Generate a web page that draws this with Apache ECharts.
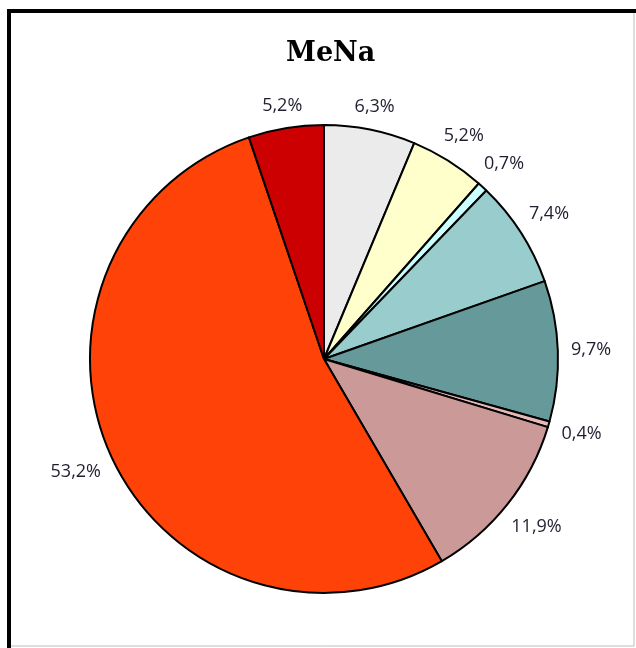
<!DOCTYPE html>
<html>
<head>
<meta charset="utf-8">
<script src="https://cdn.jsdelivr.net/npm/echarts@6/dist/echarts.min.js"></script>
<style>
html,body{margin:0;padding:0;background:#fff;}
#chart{width:636px;height:648px;}
</style>
</head>
<body>
<div id="chart"></div>
<script>
// Data (clockwise from 12 o'clock)
const categories = ['K1', 'K2', 'K3', 'K4', 'K5', 'K6', 'K7', 'K8', 'K9'];
const values = [6.3, 5.2, 0.7, 7.4, 9.7, 0.4, 11.9, 53.2, 5.2];
const colors = ['#ebebeb', '#ffffcc', '#ccffff', '#99cccc', '#669999', '#e6b8b8', '#cc9999', '#ff4208', '#cc0000'];
const titleText = 'MeNa';

const CX = 324, CY = 359, R = 234, GAP = 13;
const total = values.reduce((a, b) => a + b, 0);

function midAngle(i) {
  let before = 0;
  for (let k = 0; k < i; k++) before += values[k];
  return ((before + values[i] / 2) / total) * Math.PI * 2;
}

const chart = echarts.init(document.getElementById('chart'), null, {renderer: 'canvas'});
chart.setOption({
  animation: false,
  backgroundColor: '#ffffff',
  title: {
    text: titleText,
    left: 281,
    top: 35,
    textStyle: {fontFamily: 'DejaVu Serif', fontWeight: 'bold', fontSize: 27, color: '#000'}
  },
  graphic: [
    {type: 'polyline', shape: {points: [[9, 648], [9, 11], [636, 11]]}, style: {stroke: '#000', lineWidth: 4, fill: null}, z: 100},
    {type: 'polyline', shape: {points: [[634, 11], [634, 646], [9, 646]]}, style: {stroke: '#bdbdbd', lineWidth: 1, fill: null}, z: 99}
  ],
  series: [{
    type: 'pie',
    center: [CX, CY],
    radius: [0, R],
    startAngle: 90,
    clockwise: true,
    avoidLabelOverlap: false,
    data: categories.map((c, i) => ({name: c, value: values[i], itemStyle: {color: colors[i]}})),
    itemStyle: {borderColor: '#000', borderWidth: 2},
    label: {
      show: true,
      position: 'outside',
      formatter: p => p.value.toFixed(1).replace('.', ',') + '%',
      fontFamily: 'Open Sans',
      fontSize: 18,
      color: '#1f1f30'
    },
    labelLine: {show: false},
    labelLayout: function (params) {
      const a = midAngle(params.dataIndex);
      const s = Math.sin(a), c = Math.cos(a);
      const w = params.labelRect.width, h = params.labelRect.height * 0.75;
      const d = R + GAP + Math.abs(s) * w / 2 + Math.abs(c) * h / 2;
      return {x: CX + d * s, y: CY - d * c, align: 'center', verticalAlign: 'middle'};
    },
    emphasis: {disabled: true}
  }]
});
</script>
</body>
</html>
